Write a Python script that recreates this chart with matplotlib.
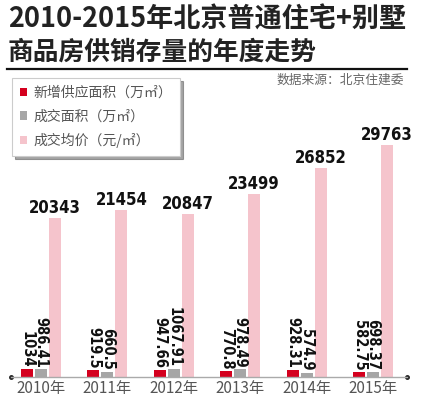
#!/usr/bin/env python3
"""2010-2015年北京普通住宅+别墅 商品房供销存量 年度走势（柱状图）。"""

import matplotlib

matplotlib.use("Agg")
import matplotlib.pyplot as plt
import numpy as np

plt.rcParams["font.family"] = ["Noto Sans CJK SC", "DejaVu Sans"]

YEARS = ["2010年", "2011年", "2012年", "2013年", "2014年", "2015年"]
SUPPLY = [1034, 919.5, 947.66, 770.8, 928.31, 582.75]        # 新增供应面积（万㎡）
DEAL_AREA = [986.41, 660.5, 1067.91, 978.49, 574.9, 698.37]  # 成交面积（万㎡）
PRICE = [20343, 21454, 20847, 23499, 26852, 29763]           # 成交均价（元/㎡）

SUPPLY_LABELS = ["1034", "919.5", "947.66", "770.8", "928.31", "582.75"]
DEAL_LABELS = ["986.41", "660.5", "1067.91", "978.49", "574.9", "698.37"]

RED = "#d4001e"
GRAY = "#a6a6a6"
PINK = "#f5c4cc"
NUM_FP = dict(family="DejaVu Sans", stretch="condensed", weight="bold")

W, H = 439, 399
fig = plt.figure(figsize=(W / 100, H / 100), dpi=100)

# 轴: 像素位置 x 11..407, 基线 y=377
ax = fig.add_axes([11 / W, (H - 377) / H, 396 / W, 300 / H])
x = np.arange(len(YEARS))
bw, off = 0.18, 0.21
b1 = ax.bar(x - off, SUPPLY, bw, color=RED, label="新增供应面积（万㎡）")
b2 = ax.bar(x, DEAL_AREA, bw, color=GRAY, label="成交面积（万㎡）")
b3 = ax.bar(x + off, PRICE, bw, color=PINK, label="成交均价（元/㎡）")
ax.set_xlim(-0.452, 5.512)
ax.set_ylim(0, 38486)

for xi, v, s in zip(x, SUPPLY, SUPPLY_LABELS):
    ax.text(xi - off, v + 200, s, rotation=-90, ha="center", va="bottom",
            fontsize=10.5, color="#111111", **NUM_FP)
for xi, v, s in zip(x, DEAL_AREA, DEAL_LABELS):
    ax.text(xi, v + 200, s, rotation=-90, ha="center", va="bottom",
            fontsize=10.5, color="#111111", **NUM_FP)
for xi, v in zip(x, PRICE):
    ax.text(xi + off, v + 150, f"{v}", ha="center", va="bottom",
            fontsize=12, color="#111111", **NUM_FP)

for s in ["top", "right", "left"]:
    ax.spines[s].set_visible(False)
ax.spines["bottom"].set_color("#aaaaaa")
ax.spines["bottom"].set_linewidth(1.0)
ax.plot([0, 1], [0, 0], "o", color="#222222", ms=2.5, transform=ax.transAxes, clip_on=False)
ax.set_yticks([])
ax.set_xticks(x)
ax.set_xticklabels(YEARS, fontsize=11, color="#555555")
ax.tick_params(axis="x", length=0, pad=2)

leg = ax.legend(handles=[b1, b2, b3], loc="upper left", bbox_to_anchor=(12 / W, 1 - 78 / H),
                bbox_transform=fig.transFigure, fontsize=10, labelcolor="#555555",
                handlelength=0.55, handleheight=0.55, handletextpad=0.45, labelspacing=0.7,
                borderpad=0.55, borderaxespad=0, fancybox=False, shadow=True,
                edgecolor="#cccccc", framealpha=1)
leg.get_frame().set_linewidth(0.8)

fig.text(8 / W, 1 - 20 / H, "2010-2015年北京普通住宅+别墅", fontsize=19.5, fontweight="bold",
         color="#222222", ha="left", va="center")
fig.text(8 / W, 1 - 52 / H, "商品房供销存量的年度走势", fontsize=18.5, fontweight="bold",
         color="#222222", ha="left", va="center")
fig.add_artist(plt.Line2D([7 / W, 407 / W], [1 - 68.5 / H, 1 - 68.5 / H], color="#111111", lw=1.6))
fig.text(404 / W, 1 - 80 / H, "数据来源：北京住建委", fontsize=9.2, color="#666666",
         ha="right", va="center")

fig.savefig("out.png", dpi=100)
